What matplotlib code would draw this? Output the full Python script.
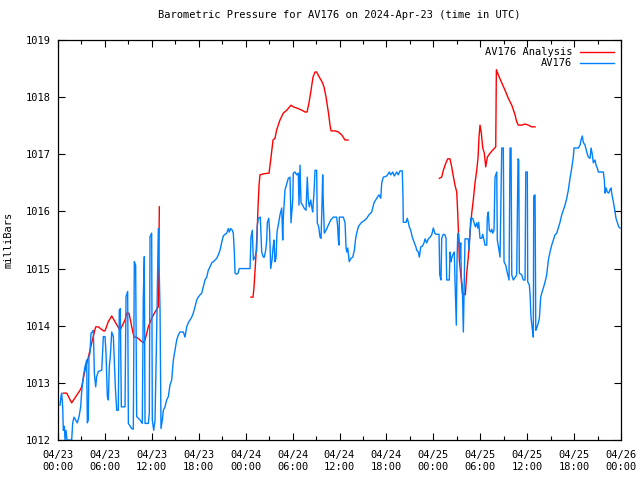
import numpy as np
import matplotlib
matplotlib.use("Agg")
import matplotlib.pyplot as plt
from matplotlib.ticker import MultipleLocator

# time in hours since 2024-04-23 00:00 UTC, pressure in millibars
obs_hours = [
    0.26, 0.38, 0.47, 0.60, 0.68, 0.81, 0.90, 1.02, 1.15, 1.32, 1.75, 1.88, 2.05, 2.26, 2.47, 2.69,
    2.90, 3.03, 3.24, 3.45, 3.67, 3.75, 3.88, 3.96, 4.09, 4.22, 4.39, 4.52, 4.65, 4.82, 4.95, 5.16,
    5.59, 5.80, 6.01, 6.14, 6.31, 6.44, 6.56, 6.69, 6.87, 7.08, 7.20, 7.33, 7.51, 7.71, 7.84, 7.97,
    8.10, 8.57, 8.70, 8.91, 9.00, 9.43, 9.63, 9.76, 9.93, 10.06, 10.49, 10.78, 10.91, 11.04, 11.13,
    11.55, 11.68, 11.77, 11.98, 12.06, 12.24, 12.41, 12.62, 12.83, 13.05, 13.17, 13.34, 13.47, 13.68,
    13.90, 14.11, 14.32, 14.54, 14.75, 14.96, 15.18, 15.39, 15.60, 16.03, 16.24, 16.46, 16.66, 16.88,
    17.10, 17.30, 17.52, 17.74, 17.94, 18.16, 18.38, 18.58, 18.80, 19.02, 19.22, 19.44, 19.66, 19.86,
    20.08, 20.30, 20.50, 20.72, 20.94, 21.14, 21.36, 21.58, 21.78, 21.91, 22.09, 22.29, 22.42, 22.55,
    22.64, 22.85, 23.02, 23.19, 24.56, 24.68, 24.85, 24.98, 25.19, 25.41, 25.49, 25.62, 25.87, 26.05,
    26.26, 26.38, 26.56, 26.69, 26.77, 26.95, 27.07, 27.20, 27.37, 27.50, 27.62, 27.75, 27.88, 28.01,
    28.17, 28.39, 28.61, 28.74, 28.81, 29.03, 29.25, 29.45, 29.67, 29.80, 30.02, 30.09, 30.31, 30.53,
    30.73, 30.82, 30.95, 31.08, 31.29, 31.46, 31.72, 31.88, 32.01, 32.14, 32.32, 32.45, 32.57, 32.74,
    32.87, 33.08, 33.16, 33.34, 33.51, 33.64, 33.76, 33.85, 33.93, 34.06, 34.28, 34.57, 34.88, 35.21,
    35.64, 35.77, 35.85, 35.94, 35.98, 36.49, 36.71, 36.83, 36.92, 37.05, 37.18, 37.25, 37.47, 37.69,
    37.90, 38.07, 38.20, 38.41, 38.53, 38.84, 39.26, 39.48, 39.77, 40.12, 40.41, 40.76, 41.05, 41.27,
    41.40, 41.60, 42.04, 42.37, 42.55, 42.81, 43.01, 43.32, 43.52, 43.74, 44.03, 44.12, 44.16, 44.51,
    44.67, 44.80, 44.93, 45.11, 45.31, 45.44, 45.57, 45.75, 45.88, 46.08, 46.21, 46.39, 46.59, 46.81,
    46.94, 47.15, 47.36, 47.58, 47.79, 48.00, 48.18, 48.34, 48.73, 48.82, 48.98, 49.07, 49.28, 49.49,
    49.62, 49.71, 50.04, 50.13, 50.26, 50.35, 50.48, 50.68, 50.77, 50.86, 50.94, 51.03, 51.12, 51.20,
    51.32, 51.41, 51.50, 51.58, 51.71, 51.84, 51.92, 52.05, 52.47, 52.56, 52.65, 52.78, 53.04, 53.20,
    53.37, 53.55, 53.68, 53.80, 53.97, 54.19, 54.32, 54.48, 54.61, 54.83, 54.90, 55.03, 55.16, 55.34,
    55.47, 55.59, 55.76, 55.89, 56.11, 56.18, 56.36, 56.53, 56.75, 56.95, 57.04, 57.26, 57.39, 57.59,
    57.68, 57.81, 57.94, 58.03, 58.23, 58.66, 58.83, 58.92, 59.00, 59.30, 59.51, 59.73, 59.82, 60.02,
    60.07, 60.28, 60.37, 60.49, 60.62, 60.71, 60.79, 60.84, 61.01, 61.10, 61.22, 61.43, 61.56, 61.64,
    61.73, 61.86, 62.07, 62.28, 62.50, 62.71, 62.92, 63.14, 63.35, 63.56, 63.78, 63.98, 64.20, 64.42,
    64.62, 64.84, 65.06, 65.26, 65.48, 65.70, 65.90, 65.99, 66.54, 66.76, 66.89, 67.05, 67.18, 67.40,
    67.62, 67.82, 68.04, 68.17, 68.30, 68.46, 68.68, 68.81, 68.97, 69.10, 69.74, 69.87, 69.96, 70.09,
    70.25, 70.43, 70.60, 70.72, 70.85, 71.02, 71.24, 71.36, 71.53, 71.71, 71.87,
]
obs_mb = [
    1012.61, 1012.76, 1012.82, 1012.58, 1012.17, 1012.24, 1012.00, 1012.17, 1012.00, 1012.00, 1012.00,
    1012.30, 1012.40, 1012.35, 1012.30, 1012.41, 1012.58, 1012.85, 1013.11, 1013.28, 1013.40, 1012.30,
    1012.35, 1013.46, 1013.52, 1013.87, 1013.89, 1013.92, 1013.17, 1012.93, 1013.11, 1013.20, 1013.22,
    1013.81, 1013.81, 1013.52, 1012.76, 1012.70, 1013.28, 1013.46, 1013.89, 1013.81, 1013.40, 1012.93,
    1012.52, 1012.52, 1014.27, 1014.30, 1012.58, 1012.58, 1014.51, 1014.60, 1012.29, 1012.20, 1012.19,
    1015.12, 1015.06, 1012.41, 1012.35, 1012.29, 1014.51, 1015.21, 1012.29, 1012.29, 1012.47, 1015.56,
    1015.62, 1012.35, 1012.17, 1012.35, 1013.92, 1015.70, 1014.27, 1012.20, 1012.35, 1012.52, 1012.58,
    1012.70, 1012.76, 1012.96, 1013.05, 1013.40, 1013.57, 1013.75, 1013.84, 1013.89, 1013.89, 1013.80,
    1013.98, 1014.05, 1014.10, 1014.15, 1014.22, 1014.33, 1014.45, 1014.50, 1014.54, 1014.57, 1014.68,
    1014.80, 1014.85, 1014.97, 1015.03, 1015.10, 1015.12, 1015.15, 1015.18, 1015.24, 1015.32, 1015.46,
    1015.57, 1015.60, 1015.62, 1015.70, 1015.64, 1015.70, 1015.67, 1015.62, 1015.29, 1014.92, 1014.90,
    1014.92, 1015.00, 1015.00, 1015.55, 1015.67, 1015.15, 1015.20, 1015.32, 1015.76, 1015.88, 1015.90,
    1015.29, 1015.20, 1015.20, 1015.32, 1015.50, 1015.80, 1015.88, 1015.64, 1015.00, 1015.15, 1015.36,
    1015.50, 1015.12, 1015.18, 1015.64, 1015.76, 1015.94, 1016.06, 1015.50, 1015.88, 1016.38, 1016.48,
    1016.58, 1016.60, 1015.80, 1016.20, 1016.67, 1016.69, 1016.64, 1016.67, 1016.11, 1016.81, 1016.15,
    1016.11, 1016.06, 1016.02, 1016.60, 1016.20, 1016.08, 1016.20, 1016.08, 1015.99, 1016.34, 1016.72,
    1016.72, 1015.80, 1015.73, 1015.55, 1015.53, 1016.11, 1016.64, 1016.15, 1015.62, 1015.67, 1015.76,
    1015.85, 1015.90, 1015.90, 1015.73, 1015.50, 1015.41, 1015.90, 1015.90, 1015.80, 1015.38, 1015.29,
    1015.36, 1015.20, 1015.12, 1015.18, 1015.20, 1015.32, 1015.53, 1015.62, 1015.73, 1015.76, 1015.81,
    1015.85, 1015.88, 1015.94, 1015.99, 1016.15, 1016.23, 1016.29, 1016.23, 1016.50, 1016.60, 1016.62,
    1016.69, 1016.64, 1016.69, 1016.62, 1016.69, 1016.64, 1016.71, 1016.71, 1016.25, 1015.81, 1015.81,
    1015.88, 1015.81, 1015.73, 1015.67, 1015.55, 1015.50, 1015.45, 1015.39, 1015.32, 1015.29, 1015.20,
    1015.38, 1015.39, 1015.45, 1015.52, 1015.45, 1015.52, 1015.55, 1015.59, 1015.71, 1015.62, 1015.60,
    1015.60, 1014.89, 1014.80, 1015.53, 1015.60, 1015.59, 1015.53, 1014.80, 1014.80, 1015.29, 1015.12,
    1015.18, 1015.24, 1015.29, 1014.80, 1014.41, 1014.01, 1015.15, 1015.59, 1015.62, 1015.45, 1015.18,
    1015.45, 1014.85, 1014.68, 1013.89, 1014.50, 1015.52, 1015.52, 1015.32, 1015.52, 1015.88, 1015.88,
    1015.81, 1015.73, 1015.80, 1015.71, 1015.81, 1015.53, 1015.53, 1015.60, 1015.50, 1015.41, 1015.41,
    1015.90, 1015.99, 1015.67, 1015.64, 1015.69, 1015.62, 1015.67, 1016.60, 1016.69, 1015.50, 1015.36,
    1015.20, 1017.11, 1017.11, 1015.12, 1015.06, 1014.97, 1014.85, 1014.80, 1017.11, 1017.11, 1014.89,
    1014.80, 1014.89, 1016.92, 1016.90, 1014.92, 1014.89, 1014.80, 1014.80, 1016.69, 1016.69, 1014.77,
    1014.71, 1014.54, 1014.15, 1013.98, 1013.87, 1013.80, 1016.27, 1016.29, 1013.92, 1013.96, 1014.05,
    1014.13, 1014.31, 1014.50, 1014.57, 1014.66, 1014.76, 1014.89, 1015.15, 1015.29, 1015.41, 1015.50,
    1015.59, 1015.62, 1015.71, 1015.81, 1015.94, 1016.02, 1016.11, 1016.23, 1016.37, 1016.58, 1016.76,
    1016.95, 1017.11, 1017.11, 1017.16, 1017.25, 1017.32, 1017.21, 1017.16, 1017.04, 1016.95, 1016.93,
    1017.11, 1017.02, 1016.85, 1016.90, 1016.81, 1016.76, 1016.69, 1016.69, 1016.55, 1016.32, 1016.41,
    1016.34, 1016.32, 1016.38, 1016.41, 1016.29, 1016.17, 1015.99, 1015.88, 1015.81, 1015.73, 1015.71,
]

# analysis series, gaps marked with nan
ana_hours = [
    0.68, 1.11, 1.75, 2.81, 3.03, 3.45, 3.88, 4.31, 4.82, 5.16, 5.80, 6.01, 6.43, 6.87, 7.29, 7.93,
    8.57, 8.79, 9.08, 9.43, 9.72, 10.06, 10.91, 11.13, 11.55, 11.98, 12.41, 12.83, 12.96,
    np.nan,
    24.68, 24.94, 25.07, 25.23, 25.32, 25.49, 25.58, 25.71, 25.83, 26.35, 26.99, 27.20, 27.50, 27.75,
    27.97, 28.39, 28.81, 29.25, 29.80, 30.09, 30.53, 31.21, 31.59, 31.85, 32.10, 32.36, 32.61, 32.87,
    33.08, 33.42, 33.76, 34.02, 34.28, 34.57, 34.79, 34.92, 35.43, 35.85, 36.28, 36.71, 37.09,
    np.nan,
    48.77, 49.07, 49.28, 49.58, 49.84, 50.13, 50.35, 50.52, 50.77, 50.99, 51.12, 51.25, 51.32, 51.54,
    51.71, 52.09, 52.27, 52.47, 52.69, 52.91, 53.11, 53.33, 53.55, 53.72, 53.84, 53.97, 54.14, 54.32,
    54.52, 54.70, 54.91, 55.25, 55.98, 56.06, 56.31, 56.75, 57.17, 57.59, 58.03, 58.45, 58.66, 58.87,
    59.30, 59.73, 60.15, 60.58, 61.01,
]
ana_mb = [
    1012.82, 1012.82, 1012.65, 1012.87, 1012.93, 1013.22, 1013.45, 1013.70, 1013.98, 1013.98, 1013.91,
    1013.91, 1014.07, 1014.17, 1014.07, 1013.92, 1014.10, 1014.22, 1014.22, 1013.98, 1013.80, 1013.80,
    1013.70, 1013.75, 1013.98, 1014.13, 1014.24, 1014.33, 1016.08,
    np.nan,
    1014.50, 1014.50, 1014.68, 1015.03, 1015.24, 1015.73, 1016.08, 1016.46, 1016.64, 1016.66, 1016.67,
    1016.90, 1017.25, 1017.28, 1017.43, 1017.60, 1017.72, 1017.77, 1017.86, 1017.83, 1017.81, 1017.77,
    1017.74, 1017.74, 1017.90, 1018.12, 1018.35, 1018.44, 1018.44, 1018.35, 1018.27, 1018.18, 1018.00,
    1017.74, 1017.51, 1017.41, 1017.41, 1017.39, 1017.34, 1017.25, 1017.25,
    np.nan,
    1016.58, 1016.60, 1016.72, 1016.84, 1016.92, 1016.92, 1016.78, 1016.64, 1016.46, 1016.34, 1015.97,
    1015.50, 1015.15, 1014.85, 1014.57, 1014.54, 1014.92, 1015.20, 1015.62, 1015.97, 1016.20, 1016.50,
    1016.72, 1016.95, 1017.30, 1017.51, 1017.37, 1017.11, 1017.02, 1016.78, 1016.95, 1017.02, 1017.13,
    1018.48, 1018.39, 1018.25, 1018.12, 1017.98, 1017.86, 1017.69, 1017.57, 1017.51, 1017.51, 1017.53,
    1017.51, 1017.48, 1017.48,
]

tick_hours = list(range(0, 73, 6))
tick_labels = ["04/23\n00:00", "04/23\n06:00", "04/23\n12:00", "04/23\n18:00",
               "04/24\n00:00", "04/24\n06:00", "04/24\n12:00", "04/24\n18:00",
               "04/25\n00:00", "04/25\n06:00", "04/25\n12:00", "04/25\n18:00",
               "04/26\n00:00"]
y_ticks = [1012, 1013, 1014, 1015, 1016, 1017, 1018, 1019]

plt.rcParams['font.family'] = ['DejaVu Sans Mono']
plt.rcParams['font.size'] = 7.5

fig = plt.figure(figsize=(6.4, 4.8), dpi=100)
ax = fig.add_axes([58 / 640, 1 - 440 / 480, (621 - 58) / 640, 400 / 480])

ax.plot(ana_hours, ana_mb, color='#ff0000', lw=1.0, label='AV176 Analysis')
ax.plot(obs_hours, obs_mb, color='#0080ff', lw=1.0, label='AV176')

ax.set_xlim(0, 72)
ax.set_ylim(1012, 1019)
ax.set_xticks(tick_hours)
ax.set_xticklabels(tick_labels, linespacing=1.3)
ax.xaxis.set_minor_locator(MultipleLocator(3))
ax.set_yticks(y_ticks)
ax.tick_params(which='both', direction='in', top=True, right=True, width=0.8)
ax.tick_params(which='major', length=5)
ax.tick_params(axis='x', which='major', pad=7)
ax.tick_params(axis='y', which='major', pad=5)
ax.tick_params(which='minor', length=3)
for s in ax.spines.values():
    s.set_linewidth(0.9)

ax.set_title('Barometric Pressure for AV176 on 2024-Apr-23 (time in UTC)', fontsize=7.5, pad=16)
ax.set_ylabel('milliBars', labelpad=9)

ax.legend(loc='upper right', frameon=False, markerfirst=False, handlelength=3.2,
          borderaxespad=0.3, labelspacing=0.1, handletextpad=0.8, fontsize=7.5)

fig.savefig('out.png', dpi=100)
